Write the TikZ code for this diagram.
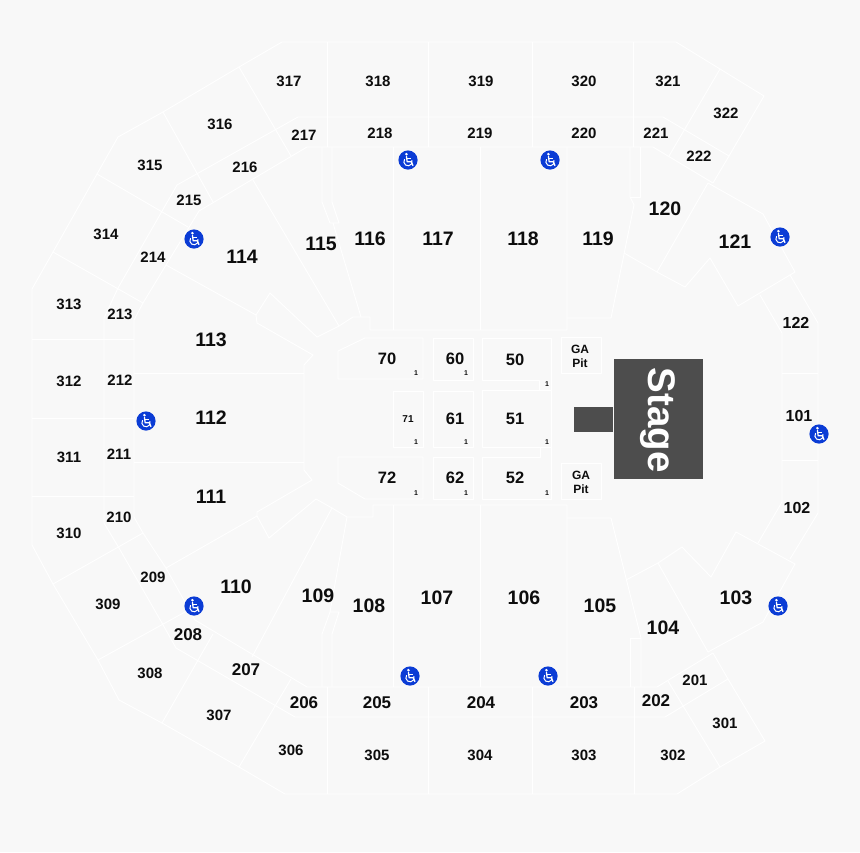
\documentclass[tikz,border=0pt]{standalone}
\usepackage{fontspec}
\setmainfont{Liberation Sans}
\definecolor{floorbg}{HTML}{F8F8F8}
\definecolor{stagegrey}{HTML}{4D4D4D}
\definecolor{wheelblue}{HTML}{0B3CD5}
\tikzset{
  seatline/.style={draw=white, line width=0.9pt, line join=round},
  sec/.style={text=black!95, inner sep=0pt, font=\fontsize{15}{15}\selectfont\bfseries},
  secmid/.style={sec, font=\fontsize{17}{17}\selectfont\bfseries},
  secbig/.style={sec, font=\fontsize{19.5}{20}\selectfont\bfseries},
  floorsec/.style={sec, font=\fontsize{16.5}{17}\selectfont\bfseries},
  gapit/.style={sec, align=center, font=\fontsize{12}{14}\selectfont\bfseries},
  rownum/.style={sec, font=\fontsize{7}{7}\selectfont\bfseries},
  wheelchair/.pic={
    \fill[wheelblue] (0,0) circle (9.6);
    \fill[white] (-1.6,-5.8) circle (1.4);
    \draw[white, line width=1.3pt, line join=round] (-1.6,-3.8) -- (-0.8,1.8) -- (3.4,1.8) -- (5,5.8);
    \draw[white, line width=1.1pt] (-1.2,-1.2) -- (3,-1.2);
    \draw[white, line width=1pt] (-3.4,-0.8) arc[start angle=215, end angle=-20, x radius=4.2, y radius=4.2];
  }
}
\begin{document}
\begin{tikzpicture}[x=1pt, y=-1pt]
  \useasboundingbox[fill=floorbg] (0,0) rectangle (860,852);
  % upper tier
  \draw[seatline] (32,289) -- (53,252) -- (97,174) -- (118,137) -- (163,112) -- (239,67) -- (282,42) -- (676,42) -- (720,69) -- (764,96) -- (729,156) -- (713,183);
  \draw[seatline] (32,289) -- (32,545) -- (53,584) -- (98,660) -- (119,700) -- (162,723) -- (239,767) -- (285,794) -- (677,794) -- (720,767) -- (765,741) -- (728,679) -- (713,653);
  \draw[seatline] (239,67) -- (291,156);
  \draw[seatline] (163,112) -- (213,202);
  \draw[seatline] (97,174) -- (188,227);
  \draw[seatline] (53,252) -- (143,303);
  \draw[seatline] (53,584) -- (143,533);
  \draw[seatline] (98,660) -- (185,612);
  \draw[seatline] (162,723) -- (213,634);
  \draw[seatline] (239,767) -- (291,679);
  \draw[seatline] (720,69) -- (669,156);
  \draw[seatline] (720,767) -- (668,681);
  \draw[seatline] (32,339) -- (134,339);
  \draw[seatline] (32,418) -- (134,418);
  \draw[seatline] (32,496) -- (134,496);
  \draw[seatline] (327,42) -- (327,147);
  \draw[seatline] (428,42) -- (428,147);
  \draw[seatline] (532,42) -- (532,147);
  \draw[seatline] (633,42) -- (633,147);
  \draw[seatline] (327,687) -- (327,794);
  \draw[seatline] (428,687) -- (428,794);
  \draw[seatline] (532,687) -- (532,794);
  \draw[seatline] (634,687) -- (634,794);
  % middle ring
  \draw[seatline] (729,156) -- (663,117) -- (298,117) -- (177,185) -- (118,288) -- (104,318) -- (104,523) -- (119,548) -- (162,623) -- (176,648) -- (295,717) -- (665,717) -- (728,679);
  \draw[seatline] (713,183) -- (653,147) -- (307,147) -- (199,211) -- (166,265) -- (143,303) -- (134,320) -- (134,517) -- (143,533) -- (166,568) -- (195,620) -- (307,687) -- (657,687) -- (713,653);
  % lower bowl, left
  \draw[seatline] (166,265) -- (256,315) -- (270,293) -- (317,337) -- (339,326) -- (353,317) -- (370,317) -- (370,330) -- (567,330) -- (567,147);
  \draw[seatline] (256,315) -- (257,323) -- (313,355) -- (304,365) -- (304,470) -- (312,480) -- (257,512) -- (257,516) -- (269,538) -- (316,499) -- (332,508) -- (347,517) -- (373,517) -- (373,505) -- (567,505) -- (567,687);
  \draw[seatline] (257,516) -- (166,568);
  \draw[seatline] (134,373) -- (304,373);
  \draw[seatline] (134,462) -- (304,462);
  \draw[seatline] (253,180) -- (339,326);
  \draw[seatline] (252,657) -- (332,508);
  \draw[seatline] (322,147) -- (322,202) -- (330,223) -- (339,223) -- (332,202) -- (332,147);
  \draw[seatline] (333,223) -- (361,317);
  \draw[seatline] (322,687) -- (322,634) -- (330,612) -- (339,612) -- (332,634) -- (332,687);
  \draw[seatline] (347,517) -- (330,612);
  \draw[seatline] (393,147) -- (393,330);
  \draw[seatline] (480,147) -- (480,330);
  \draw[seatline] (393,505) -- (393,687);
  \draw[seatline] (480,505) -- (480,687);
  % lower bowl, right
  \draw[seatline] (567,318) -- (611,318) -- (634,205) -- (630,197) -- (630,147);
  \draw[seatline] (630,197) -- (640,197) -- (640,147);
  \draw[seatline] (567,518) -- (611,518) -- (641,638) -- (641,687);
  \draw[seatline] (630,687) -- (630,638) -- (641,638);
  \draw[seatline] (708,183) -- (763,214) -- (795,272) -- (738,306) -- (710,258) -- (685,287) -- (657,272) -- (624,253);
  \draw[seatline] (708,183) -- (657,272);
  \draw[seatline] (708,652) -- (763,622) -- (795,564) -- (736,532) -- (711,577) -- (682,547) -- (658,563) -- (626,580);
  \draw[seatline] (658,563) -- (708,652);
  \draw[seatline] (790,275) -- (818,323) -- (818,513) -- (790,559);
  \draw[seatline] (760,295) -- (782,333) -- (782,502) -- (758,543);
  \draw[seatline] (782,373) -- (818,373);
  \draw[seatline] (782,460) -- (818,460);
  % floor
  \draw[seatline] (338,351) -- (365,338) -- (423,338) -- (423,379) -- (338,379) -- cycle;
  \draw[seatline] (433,338) rectangle (473,380);
  \draw[seatline] (482,338) -- (551,338) -- (551,390) -- (539,390) -- (539,380) -- (482,380) -- cycle;
  \draw[seatline] (561,337) rectangle (601,373);
  \draw[seatline] (393,391) rectangle (423,447);
  \draw[seatline] (433,391) rectangle (473,447);
  \draw[seatline] (482,390) rectangle (551,447);
  \draw[seatline] (338,457) -- (423,457) -- (423,499) -- (365,499) -- (338,483) -- cycle;
  \draw[seatline] (433,457) rectangle (473,499);
  \draw[seatline] (482,457) -- (540,457) -- (540,447) -- (551,447) -- (551,499) -- (482,499) -- cycle;
  \draw[seatline] (561,463) rectangle (601,499);
  % stage
  \fill[stagegrey] (614,359) rectangle (703,479);
  \fill[stagegrey] (574,407) rectangle (613,432);
  \node[rotate=-90, text=white, font=\fontsize{38.5}{39}\selectfont\bfseries, inner sep=0pt] (stage) at (658,420) {Stage};
  % wheelchair spots
  \pic at (408,160) {wheelchair};
  \pic at (550,160) {wheelchair};
  \pic at (194,239) {wheelchair};
  \pic at (780,237) {wheelchair};
  \pic at (146,421) {wheelchair};
  \pic at (819,434) {wheelchair};
  \pic at (194,606) {wheelchair};
  \pic at (778,606) {wheelchair};
  \pic at (410,676) {wheelchair};
  \pic at (548,676) {wheelchair};
  % upper tier labels
  \node[sec] (s301) at (725,723) {301};
  \node[sec] (s302) at (673,755) {302};
  \node[sec] (s303) at (584,755) {303};
  \node[sec] (s304) at (480,755) {304};
  \node[sec] (s305) at (377,755) {305};
  \node[sec] (s306) at (291,750) {306};
  \node[sec] (s307) at (219,715) {307};
  \node[sec] (s308) at (150,673) {308};
  \node[sec] (s309) at (108,604) {309};
  \node[sec] (s310) at (69,533) {310};
  \node[sec] (s311) at (69,457) {311};
  \node[sec] (s312) at (69,381) {312};
  \node[sec] (s313) at (69,304) {313};
  \node[sec] (s314) at (106,234) {314};
  \node[sec] (s315) at (150,165) {315};
  \node[sec] (s316) at (220,124) {316};
  \node[sec] (s317) at (289,81) {317};
  \node[sec] (s318) at (378,81) {318};
  \node[sec] (s319) at (481,81) {319};
  \node[sec] (s320) at (584,81) {320};
  \node[sec] (s321) at (668,81) {321};
  \node[sec] (s322) at (726,113) {322};
  % middle ring labels
  \node[sec] (s201) at (695,680) {201};
  \node[secmid] (s202) at (656,701) {202};
  \node[secmid] (s203) at (584,703) {203};
  \node[secmid] (s204) at (481,703) {204};
  \node[secmid] (s205) at (377,703) {205};
  \node[secmid] (s206) at (304,703) {206};
  \node[secmid] (s207) at (246,670) {207};
  \node[secmid] (s208) at (188,635) {208};
  \node[sec] (s209) at (153,577) {209};
  \node[sec] (s210) at (119,517) {210};
  \node[sec] (s211) at (119,454) {211};
  \node[sec] (s212) at (120,380) {212};
  \node[sec] (s213) at (120,314) {213};
  \node[sec] (s214) at (153,257) {214};
  \node[sec] (s215) at (189,200) {215};
  \node[sec] (s216) at (245,167) {216};
  \node[sec] (s217) at (304,135) {217};
  \node[sec] (s218) at (380,133) {218};
  \node[sec] (s219) at (480,133) {219};
  \node[sec] (s220) at (584,133) {220};
  \node[sec] (s221) at (656,133) {221};
  \node[sec] (s222) at (699,156) {222};
  % lower bowl labels
  \node[sec, font=\fontsize{16}{16}\selectfont\bfseries] (s101) at (799,416) {101};
  \node[sec, font=\fontsize{16}{16}\selectfont\bfseries] (s102) at (797,508) {102};
  \node[secbig] (s103) at (736,598) {103};
  \node[secbig] (s104) at (663,628) {104};
  \node[secbig] (s105) at (600,606) {105};
  \node[secbig] (s106) at (524,598) {106};
  \node[secbig] (s107) at (437,598) {107};
  \node[secbig] (s108) at (369,606) {108};
  \node[secbig] (s109) at (318,596) {109};
  \node[secbig] (s110) at (236,587) {110};
  \node[secbig] (s111) at (211,497) {111};
  \node[secbig] (s112) at (211,418) {112};
  \node[secbig] (s113) at (211,340) {113};
  \node[secbig] (s114) at (242,257) {114};
  \node[secbig] (s115) at (321,244) {115};
  \node[secbig] (s116) at (370,239) {116};
  \node[secbig] (s117) at (438,239) {117};
  \node[secbig] (s118) at (523,239) {118};
  \node[secbig] (s119) at (598,239) {119};
  \node[secbig] (s120) at (665,209) {120};
  \node[secbig] (s121) at (735,242) {121};
  \node[sec, font=\fontsize{16}{16}\selectfont\bfseries] (s122) at (796,323) {122};
  % floor labels
  \node[floorsec] (s70) at (387,359) {70};
  \node[floorsec] (s60) at (455,359) {60};
  \node[floorsec] (s50) at (515,360) {50};
  \node[sec, font=\fontsize{10}{10}\selectfont\bfseries] (s71) at (408,419) {71};
  \node[floorsec] (s61) at (455,419) {61};
  \node[floorsec] (s51) at (515,419) {51};
  \node[floorsec] (s72) at (387,478) {72};
  \node[floorsec] (s62) at (455,478) {62};
  \node[floorsec] (s52) at (515,478) {52};
  \node[gapit] (pit1) at (580,356) {GA\\Pit};
  \node[gapit] (pit2) at (581,482) {GA\\Pit};
  % row numbers
  \node[rownum] (r70) at (416,373) {1};
  \node[rownum] (r60) at (466,373) {1};
  \node[rownum] (r50) at (547,384) {1};
  \node[rownum] (r71) at (416,442) {1};
  \node[rownum] (r61) at (466,442) {1};
  \node[rownum] (r51) at (547,442) {1};
  \node[rownum] (r72) at (416,493) {1};
  \node[rownum] (r62) at (466,493) {1};
  \node[rownum] (r52) at (547,493) {1};
\end{tikzpicture}
\end{document}
